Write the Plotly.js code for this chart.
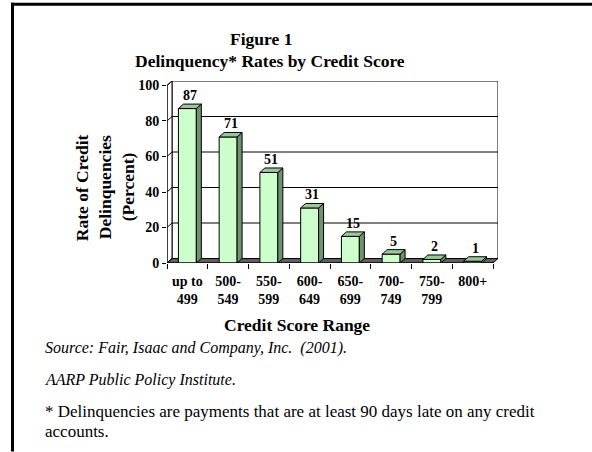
<!DOCTYPE html>
<html>
<head>
<meta charset="utf-8">
<script src="https://cdn.plot.ly/plotly-3.0.1.min.js"></script>
<style>html,body{margin:0;padding:0;background:#fff;}#chart{width:592px;height:452px;}</style>
</head>
<body>
<div id="chart"></div>
<script>
// ---- data ----
const categories = ['up to<br>499', '500-<br>549', '550-<br>599', '600-<br>649', '650-<br>699', '700-<br>749', '750-<br>799', '800+'];
const rates = [87, 71, 51, 31, 15, 5, 2, 1];
const yTickVals = [0, 20, 40, 60, 80, 100];
const titleLines = ['Figure 1', 'Delinquency* Rates by Credit Score'];
const yTitleLines = ['Rate of Credit', 'Delinquencies', '(Percent)'];
const xTitle = 'Credit Score Range';
const notes = ['<i>Source: Fair, Isaac and Company, Inc.  (2001).</i>', '<i>AARP Public Policy Institute.</i>', '* Delinquencies are payments that are at least 90 days late on any credit', 'accounts.'];

// ---- geometry ----
const FIG_W = 592, FIG_H = 452;
const catPx = 40.75, unitPx = 1.78, depthXpx = 5, depthYpx = 4.5;
const n = categories.length;
const plotW = n * catPx + depthXpx;
const plotH = 100 * unitPx + depthYpx;
const L = 167, B = 189;
const T = FIG_H - B - plotH;
const R = FIG_W - L - plotW;
const dx = depthXpx / catPx, dy = depthYpx / unitPx;
const x0 = -0.5, x1 = n - 0.5, yMax = 100;
const px = p => (p - L) / plotW;
const py = p => (FIG_H - B - p) / plotH;

const FONT = 'Liberation Serif';
const shapes = [];
const line = {color: '#000', width: 1};
function poly(pts, fill, layer) {
  const d = 'M' + pts.map(p => p[0] + ',' + p[1]).join('L') + 'Z';
  shapes.push({type: 'path', xref: 'x', yref: 'y', path: d, fillcolor: fill, line: line, layer: layer || 'above'});
}
// back wall
poly([[x0 + dx, dy], [x1 + dx, dy], [x1 + dx, yMax + dy], [x0 + dx, yMax + dy]], '#ffffff', 'below');
// left wall
poly([[x0, 0], [x0 + dx, dy], [x0 + dx, yMax + dy], [x0, yMax]], '#ffffff', 'below');
// gridlines
yTickVals.forEach(v => {
  if (v > 0 && v < yMax) {
    shapes.push({type: 'line', xref: 'x', yref: 'y', x0: x0 + dx, x1: x1 + dx, y0: v + dy, y1: v + dy, line: line, layer: 'below'});
  }
  shapes.push({type: 'line', xref: 'x', yref: 'y', x0: x0, x1: x0 + dx, y0: v, y1: v + dy, line: line, layer: 'below'});
});
// floor
poly([[x0, 0], [x1, 0], [x1 + dx, dy], [x0 + dx, dy]], '#5f5f5f', 'below');
// bar depth faces
const hw = 0.22;
rates.forEach((v, i) => {
  poly([[i + hw, 0], [i + hw + dx, dy], [i + hw + dx, v + dy], [i + hw, v]], '#6f936f');
  poly([[i - hw, v], [i + hw, v], [i + hw + dx, v + dy], [i - hw + dx, v + dy]], '#99c799');
});
// frame
shapes.push({type: 'line', xref: 'paper', yref: 'paper', x0: px(12.5), x1: px(12.5), y0: py(2), y1: py(452), line: {color: '#000', width: 3}});
shapes.push({type: 'line', xref: 'paper', yref: 'paper', x0: px(11), x1: px(592), y0: py(3.5), y1: py(3.5), line: {color: '#000', width: 3}});

const annotations = [];
rates.forEach((v, i) => {
  annotations.push({x: i + dx / 2, y: v + dy, xref: 'x', yref: 'y', text: '<b>' + v + '</b>', showarrow: false,
    xanchor: 'center', yanchor: 'bottom', yshift: -1, font: {family: FONT, size: 14, color: '#000'}});
});
function paperText(cx, cy, text, size, extra) {
  annotations.push(Object.assign({x: px(cx), y: py(cy), xref: 'paper', yref: 'paper', text: text, showarrow: false,
    xanchor: 'center', yanchor: 'middle', font: {family: FONT, size: size, color: '#000'}}, extra || {}));
}
paperText(261, 38, '<b>' + titleLines[0] + '</b>', 17.5);
paperText(270, 60, '<b>' + titleLines[1] + '</b>', 17.5);
[82, 105, 128].forEach((cx, k) => paperText(cx, 187, '<b>' + yTitleLines[k] + '</b>', 17.5, {textangle: -90}));
paperText(297, 325, '<b>' + xTitle + '</b>', 17.5);
paperText(43, 348, notes[0], 16, {xanchor: 'left'});
paperText(43, 380, notes[1], 16, {xanchor: 'left'});
paperText(43, 412, notes[2], 17, {xanchor: 'left'});
paperText(43, 432, notes[3], 17, {xanchor: 'left'});

const trace = {
  type: 'bar', x: categories, y: rates, width: 2 * hw,
  marker: {color: '#ccffcc', line: {color: '#000', width: 1}},
  hoverinfo: 'x+y', cliponaxis: false
};

const layout = {
  width: FIG_W, height: FIG_H,
  margin: {l: L, r: R, t: T, b: B, pad: 0},
  paper_bgcolor: '#fff', plot_bgcolor: 'rgba(0,0,0,0)',
  showlegend: false,
  font: {family: FONT, color: '#000'},
  xaxis: {type: 'category', range: [x0, x1 + dx], showline: false, showgrid: false, zeroline: false,
    ticks: 'outside', tickson: 'boundaries', ticklen: 5, tickcolor: '#000', tickwidth: 1, ticklabelstandoff: 8,
    tickfont: {family: FONT, size: 14, color: '#000', weight: 'bold'}, fixedrange: true},
  yaxis: {range: [0, yMax + dy], tickvals: yTickVals, showline: false, showgrid: false, zeroline: false,
    ticks: 'outside', ticklen: 4, tickcolor: '#000', tickwidth: 1,
    tickfont: {family: FONT, size: 14, color: '#000', weight: 'bold'}, fixedrange: true},
  shapes: shapes,
  annotations: annotations
};
// front axis lines
shapes.push({type: 'line', xref: 'x', yref: 'y', x0: x0, x1: x0, y0: 0, y1: yMax, line: line});
shapes.push({type: 'line', xref: 'x', yref: 'y', x0: x0, x1: x1, y0: 0, y1: 0, line: line});

Plotly.newPlot('chart', [trace], layout, {displayModeBar: false, staticPlot: true});
</script>
</body>
</html>
